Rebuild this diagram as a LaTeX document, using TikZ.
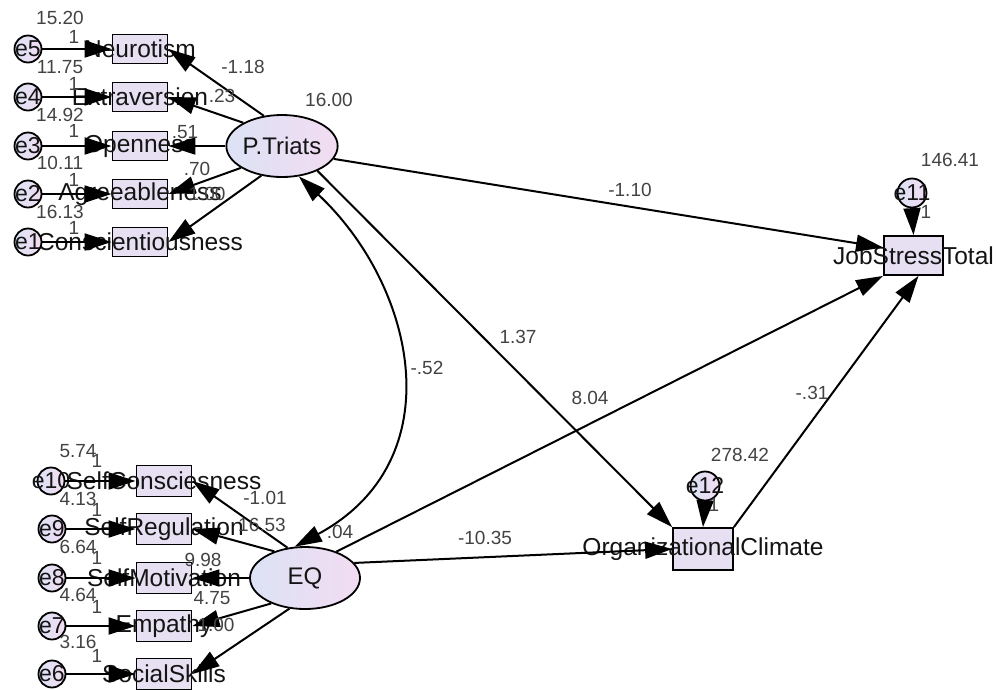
\documentclass[tikz,border=0pt]{standalone}
\usepackage{fontspec}
\setmainfont{Liberation Sans}
\usetikzlibrary{shapes.geometric,arrows.meta,calc}
\definecolor{boxfill}{RGB}{230,224,242}
\definecolor{ellL}{RGB}{220,226,244}
\definecolor{ellR}{RGB}{242,220,242}
\definecolor{txt}{RGB}{20,20,20}
\begin{document}
\begin{tikzpicture}[x=1pt,y=-1pt,
  ind/.style={draw, line width=1.8pt, fill=boxfill, minimum width=55pt, minimum height=29pt, inner sep=0pt},
  lat/.style={ellipse, draw, line width=1.8pt, left color=ellL, right color=ellR, minimum width=110pt, minimum height=62pt, inner sep=0pt, font=\fontsize{24}{26}\selectfont, text=txt},
  err/.style={circle, draw, line width=1.8pt, left color=ellL, right color=ellR, minimum size=27pt, inner sep=0pt},
  lbl/.style={font=\fontsize{24.5}{26}\selectfont, inner sep=0pt, text=txt},
  elbl/.style={font=\fontsize{23}{25}\selectfont, inner sep=0pt, text=txt},
  num/.style={font=\fontsize{19}{21}\selectfont, inner sep=0pt, text=txt!80},
  arr/.style={line width=2pt, -{Triangle[length=27pt,width=17pt]}},
  darr/.style={line width=2pt, {Triangle[length=27pt,width=17pt]}-{Triangle[length=27pt,width=17pt]}}
]
\fill[white] (0,0) rectangle (998,689);
\useasboundingbox (0,0) rectangle (998,689);

% ---------- P.Triats block ----------
\node[ind, label={[lbl]center:Neurotism}] (neu) at (140,49) {};
\node[ind, label={[lbl]center:Extraversion}] (ext) at (140,97) {};
\node[ind, label={[lbl]center:Openness}] (opn) at (140,146) {};
\node[ind, label={[lbl]center:Agreeableness}] (agr) at (140,194) {};
\node[ind, label={[lbl]center:Conscientiousness}] (con) at (140,242) {};

\node[err, label={[elbl]center:e5}] (e5) at (28,49) {};
\node[err, label={[elbl]center:e4}] (e4) at (28,97) {};
\node[err, label={[elbl]center:e3}] (e3) at (28,146) {};
\node[err, label={[elbl]center:e2}] (e2) at (28,194) {};
\node[err, label={[elbl]center:e1}] (e1) at (28,242) {};

\node[lat] (pt) at (282,146) {P.Triats};

% ---------- EQ block ----------
\node[ind, minimum height=31pt, label={[lbl]center:SelfConsciesness}] (sc) at (164,481) {};
\node[ind, minimum height=31pt, label={[lbl]center:SelfRegulation}] (sr) at (164,529) {};
\node[ind, minimum height=31pt, label={[lbl]center:SelfMotivation}] (sm) at (164,578) {};
\node[ind, minimum height=31pt, label={[lbl]center:Empathy}] (emp) at (164,626) {};
\node[ind, minimum height=31pt, label={[lbl]center:SocialSkills}] (ss) at (164,674) {};

\node[err, label={[elbl]center:e10}] (e10) at (51,481) {};
\node[err, label={[elbl]center:e9}] (e9) at (52,529) {};
\node[err, label={[elbl]center:e8}] (e8) at (52,578) {};
\node[err, label={[elbl]center:e7}] (e7) at (52,626) {};
\node[err, label={[elbl]center:e6}] (e6) at (52,674) {};

\node[lat] (eq) at (305,578) {EQ};

% ---------- outcomes ----------
\node[ind, minimum width=59pt, minimum height=39pt, label={[lbl]center:JobStressTotal}] (jst) at (913.5,255.5) {};
\node[err, minimum size=29pt, label={[elbl]center:e11}] (e11) at (912,193) {};
\node[ind, minimum width=60pt, minimum height=42pt, label={[lbl]center:OrganizationalClimate}] (oc) at (703,549) {};
\node[err, minimum size=29pt, label={[elbl]center:e12}] (e12) at (705,486) {};

% ---------- error arrows ----------
\foreach \e/\b in {e5/neu,e4/ext,e3/opn,e2/agr,e1/con,e10/sc,e9/sr,e8/sm,e7/emp,e6/ss}
  \draw[arr] (\e.east) -- (\b.west);
\draw[arr] (e11.south) -- (jst.north);
\draw[arr] (e12.south) -- (oc.north);

% ---------- loadings ----------
\draw[arr] (pt.121) -- (neu.east);
\draw[arr] (pt.149) -- (ext.east);
\draw[arr] (pt.west) -- (opn.east);
\draw[arr] (pt.208) -- (agr.east);
\draw[arr] (pt.235) -- (con.east);

\draw[arr] (eq.120) -- (sc.east);
\draw[arr] (eq.139) -- (sr.east);
\draw[arr] (eq.west) -- (sm.east);
\draw[arr] (eq.217) -- (emp.east);
\draw[arr] (eq.243) -- (ss.east);

% ---------- structural paths ----------
\draw[arr] (pt.-14) -- ([yshift=8pt]jst.west);
\draw[arr] (pt.-35) -- (oc.north west);
\draw[darr] (pt.-61) .. controls (415,285) and (455,460) .. (eq.108);
\draw[arr] (eq.40) -- (jst.south west);
\draw[arr] (eq.17) -- (oc.west);
\draw[arr] (oc.north east) -- ([xshift=5pt]jst.south);

% ---------- numbers ----------
\node[num] (v5) at (60,18) {15.20};
\node[num] (v4) at (60,67) {11.75};
\node[num] (v3) at (60,115) {14.92};
\node[num] (v2) at (60,163) {10.11};
\node[num] (v1) at (60,212) {16.13};
\node[num] (w5) at (74,37) {1};
\node[num] (w4) at (74,84) {1};
\node[num] (w3) at (74,131) {1};
\node[num] (w2) at (74,180) {1};
\node[num] (w1) at (74,228) {1};

\node[num] (l1) at (243,67) {-1.18};
\node[num] (l2) at (222,96) {.23};
\node[num] (l3) at (185,132) {.51};
\node[num] (l4) at (197,169) {.70};
\node[num] (l5) at (207,194) {1.00};
\node[num] (vpt) at (329,100) {16.00};

\node[num] (v10) at (78,451) {5.74};
\node[num] (v9) at (78,499) {4.13};
\node[num] (v8) at (78,547) {6.64};
\node[num] (v7) at (78,595) {4.64};
\node[num] (v6) at (78,642) {3.16};
\node[num] (w10) at (97,461) {1};
\node[num] (w9) at (97,510) {1};
\node[num] (w8) at (97,558) {1};
\node[num] (w7) at (97,607) {1};
\node[num] (w6) at (97,656) {1};

\node[num] (m1) at (265,498) {-1.01};
\node[num] (m2) at (262,525) {16.53};
\node[num] (m3) at (203,560) {9.98};
\node[num] (m4) at (212,598) {4.75};
\node[num] (m5) at (216,625) {1.00};
\node[num] (veq) at (340,532) {.04};

\node[num] (p1) at (630,190) {-1.10};
\node[num] (p2) at (518,337) {1.37};
\node[num] (p3) at (427,368) {-.52};
\node[num] (p4) at (590,398) {8.04};
\node[num] (p5) at (485,538) {-10.35};
\node[num] (p6) at (812,393) {-.31};
\node[num] (vjst) at (950,160) {146.41};
\node[num] (voc) at (740,455) {278.42};
\node[num] (w11) at (926,212) {1};
\node[num] (w12) at (714,505) {1};
\end{tikzpicture}
\end{document}
